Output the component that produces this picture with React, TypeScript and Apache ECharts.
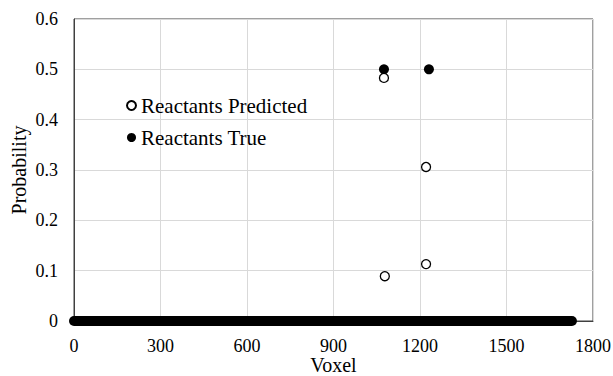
import React, { useEffect, useRef } from "react";
import * as echarts from "echarts";

// Voxel positions and probabilities of the non-zero points
const predictedPoints: [number, number][] = [
  [1075, 0.483],
  [1078, 0.089],
  [1221, 0.306],
  [1221, 0.113],
];
const truePoints: [number, number][] = [
  [1075, 0.5],
  [1231, 0.5],
];
// Every other voxel in the scanned range has probability 0
const zeroVoxelRange: [number, number] = [0, 1727];

const xTicks = { min: 0, max: 1800, interval: 300 };
const yTicks = { min: 0, max: 0.6, interval: 0.1 };

const FONT = "'Liberation Serif', 'Times New Roman', serif";

export default function App() {
  const ref = useRef<HTMLDivElement>(null);

  useEffect(() => {
    if (!ref.current) return;
    const chart = echarts.init(ref.current, undefined, { renderer: "svg" });
    chart.setOption({
      animation: false,
      backgroundColor: "#ffffff",
      textStyle: { fontFamily: FONT, color: "#000" },
      grid: {
        left: 74,
        right: 20,
        top: 19,
        bottom: 55,
        show: true,
        borderColor: "#404040",
        borderWidth: 1,
        outerBoundsMode: "none",
        containLabel: false,
      },
      legend: {
        data: ["Reactants Predicted", "Reactants True"],
        orient: "vertical",
        left: 121,
        top: 90,
        itemWidth: 9,
        itemHeight: 9,
        itemGap: 11,
        icon: "circle",
        textStyle: { fontFamily: FONT, fontSize: 21, color: "#000", padding: [0, 0, 0, 0] },
      },
      xAxis: {
        type: "value",
        min: xTicks.min,
        max: xTicks.max,
        interval: xTicks.interval,
        name: "Voxel",
        nameLocation: "middle",
        nameGap: 35,
        nameMoveOverlap: false,
        nameTextStyle: { fontFamily: FONT, fontSize: 20, color: "#000", lineHeight: 18 },
        axisLine: { show: true, lineStyle: { color: "#404040" } },
        axisTick: { show: false },
        axisLabel: {
          fontFamily: FONT,
          fontSize: 18,
          lineHeight: 17,
          color: "#000",
          margin: 16,
          formatter: (v: number) => String(v),
        },
        splitLine: { show: true, lineStyle: { color: "#d9d9d9", width: 1 } },
      },
      yAxis: {
        type: "value",
        min: yTicks.min,
        max: yTicks.max,
        interval: yTicks.interval,
        name: "Probability",
        nameLocation: "middle",
        nameGap: 45,
        nameMoveOverlap: false,
        nameRotate: 90,
        nameTextStyle: { fontFamily: FONT, fontSize: 20, color: "#000" },
        axisLine: { show: true, lineStyle: { color: "#404040" } },
        axisTick: { show: false },
        axisLabel: {
          fontFamily: FONT,
          fontSize: 18,
          color: "#000",
          margin: 16,
          formatter: (v: number) => (v === 0 ? "0" : v.toFixed(1)),
        },
        splitLine: { show: true, lineStyle: { color: "#d9d9d9", width: 1 } },
      },
      series: [
        {
          // run of zero-probability voxels, drawn as the merged row of markers
          name: "zero",
          type: "line",
          data: [
            [zeroVoxelRange[0], 0],
            [zeroVoxelRange[1], 0],
          ],
          symbol: "none",
          lineStyle: { color: "#000", width: 10, cap: "round" },
          silent: true,
          z: 3,
        },
        {
          name: "Reactants Predicted",
          type: "scatter",
          data: predictedPoints,
          symbol: "circle",
          symbolSize: 9,
          itemStyle: { color: "#fff", borderColor: "#000", borderWidth: 1.3, opacity: 1 },
          z: 4,
        },
        {
          name: "Reactants True",
          type: "scatter",
          data: truePoints,
          symbol: "circle",
          symbolSize: 10,
          itemStyle: { color: "#000", borderColor: "#000", borderWidth: 0, opacity: 1 },
          z: 3,
        },
      ],
    });
    return () => chart.dispose();
  }, []);

  return <div ref={ref} style={{ width: 613, height: 376, position: "absolute", left: 0, top: 0 }} />;
}
